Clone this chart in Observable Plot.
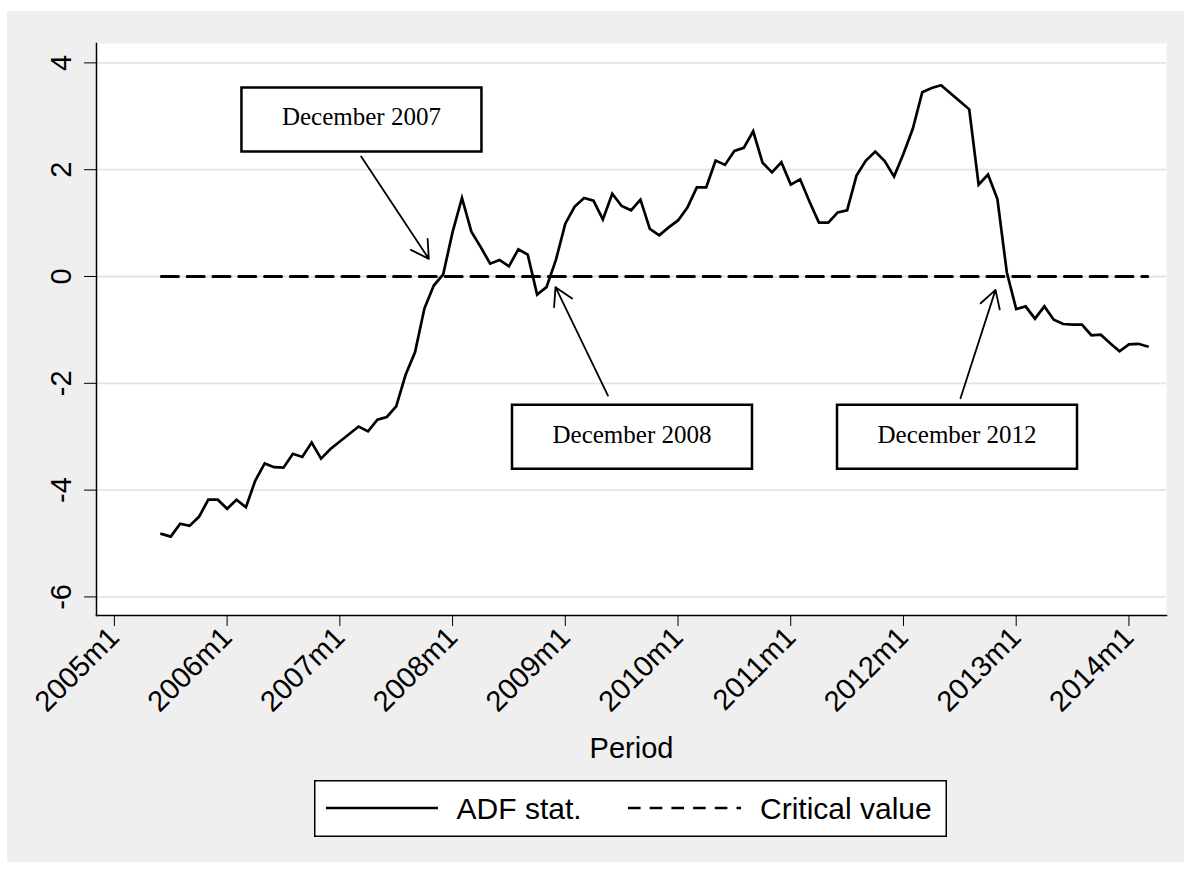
<!DOCTYPE html>
<html>
<head>
<meta charset="utf-8">
<script src="https://cdn.jsdelivr.net/npm/d3@7"></script>
<script src="https://cdn.jsdelivr.net/npm/@observablehq/plot@0.6"></script>
<style>
  html, body { margin: 0; padding: 0; background: #ffffff; width: 1184px; height: 871px; overflow: hidden; }
  #bg { position: absolute; left: 7px; top: 11px; width: 1177px; height: 851px; background: #efefef; }
  #chart { position: absolute; left: 0; top: 0; }
  #legend { position: absolute; left: 314px; top: 780px; overflow: visible; }
</style>
</head>
<body>
<div id="bg"></div>
<div id="chart"></div>
<svg id="legend" width="633" height="57"></svg>
<script>
// ---------- data ----------
const startPeriod = "2005m6";
const adfStat = [
  -4.82, -4.87, -4.63, -4.67, -4.50, -4.18, -4.18, -4.35, -4.18, -4.32,
  -3.82, -3.50, -3.57, -3.58, -3.32, -3.38, -3.11, -3.41, -3.23, -3.09,
  -2.95, -2.81, -2.90, -2.68, -2.63, -2.43, -1.84, -1.42, -0.60, -0.17,
   0.04,  0.83,  1.47,  0.84,  0.55,  0.24,  0.31,  0.19,  0.51,  0.41,
  -0.34, -0.20,  0.31,  0.99,  1.31,  1.47,  1.42,  1.07,  1.55,  1.32,
   1.24,  1.44,  0.89,  0.77,  0.92,  1.05,  1.29,  1.67,  1.67,  2.17,
   2.09,  2.35,  2.41,  2.72,  2.13,  1.95,  2.14,  1.72,  1.82,  1.40,
   1.01,  1.01,  1.20,  1.24,  1.89,  2.17,  2.34,  2.16,  1.87,  2.30,
   2.77,  3.45,  3.53,  3.58,  3.43,  3.28,  3.13,  1.72,  1.91,  1.45,
   0.08, -0.61, -0.56, -0.79, -0.56, -0.81, -0.89, -0.90, -0.90, -1.10,
  -1.09, -1.25, -1.40, -1.27, -1.26, -1.31
];
const criticalValue = 0;
const xTickLabels = ["2005m1","2006m1","2007m1","2008m1","2009m1","2010m1","2011m1","2012m1","2013m1","2014m1"];
const yTicks = [-6, -4, -2, 0, 2, 4];
const annotationLabels = ["December 2007", "December 2008", "December 2012"];
const boxX  = [26.3, 55.1, 89.7];     // months since 2005m1
const boxY  = [2.94, -3.0, -3.0];
const tailX = [26.27, 52.54, 90.07];
const tailY = [2.247, -2.23, -2.28];
const tipX  = [33.47, 46.96, 93.8];
const tipY  = [0.331, -0.20, -0.25];
const legendLabels = ["ADF stat.", "Critical value"];

// ---------- helpers ----------
const periodIndex = p => { const [y, m] = p.split("m").map(Number); return (y - 2005) * 12 + (m - 1); };
const t0 = periodIndex(startPeriod);
const adfRows = adfStat.map((v, i) => ({t: t0 + i, v}));
const critRows = [{t: t0, v: criticalValue}, {t: t0 + adfStat.length - 1, v: criticalValue}];
const tickPos = xTickLabels.map(periodIndex);
const tickMap = new Map(xTickLabels.map(l => [periodIndex(l), l]));
const annotations = annotationLabels.map((label, i) => ({
  label, bx: boxX[i], by: boxY[i], x1: tailX[i], y1: tailY[i], x2: tipX[i], y2: tipY[i]
}));
const boxSymbol = { draw(ctx) { ctx.rect(-120, -32, 240, 64); } };

const SANS = "'Liberation Sans', Arial, Helvetica, sans-serif";
const SERIF = "'Liberation Serif', 'Times New Roman', serif";

const chart = Plot.plot({
  width: 1184,
  height: 780,
  marginLeft: 96,
  marginRight: 18,
  marginTop: 43,
  marginBottom: 165,
  style: {background: "transparent", fontFamily: SANS, fontSize: "29px", color: "black", overflow: "visible"},
  x: {type: "linear", domain: [-1.905, 112]},
  y: {type: "linear", domain: [-6.348, 4.363]},
  marks: [
    Plot.frame({fill: "white", stroke: "none"}),
    Plot.gridY(yTicks, {stroke: "#e4e4e4", strokeOpacity: 1, strokeWidth: 1.8}),
    Plot.frame({anchor: "left", stroke: "black", strokeWidth: 1.5}),
    Plot.frame({anchor: "bottom", stroke: "black", strokeWidth: 1.5}),
    Plot.axisY(yTicks, {tickSize: 12, tickPadding: 14, tickRotate: -90, label: null, fontSize: 29,
      tickFormat: d => String(d)}),
    Plot.axisX(tickPos, {
      tickSize: 11, tickPadding: 6, tickRotate: -45, fontSize: 29,
      tickFormat: d => tickMap.get(d),
      label: "Period", labelAnchor: "center", labelOffset: 142, labelArrow: "none"
    }),
    Plot.line(adfRows, {x: "t", y: "v", stroke: "black", strokeWidth: 2.7, strokeLinejoin: "miter", strokeMiterlimit: 4}),
    Plot.line(critRows, {x: "t", y: "v", stroke: "black", strokeWidth: 3, strokeDasharray: "17 8.8"}),
    Plot.arrow(annotations, {x1: "x1", y1: "y1", x2: "x2", y2: "y2", stroke: "black", strokeWidth: 1.8, headLength: 16.7, headAngle: 60}),
    Plot.dot(annotations, {x: "bx", y: "by", symbol: boxSymbol, r: 10, fill: "white", stroke: "black", strokeWidth: 2.5}),
    Plot.text(annotations, {x: "bx", y: "by", text: "label", fontFamily: SERIF, fontSize: 25, fill: "black", dy: -2})
  ]
});
document.getElementById("chart").appendChild(chart);

// ---------- legend ----------
const lg = d3.select("#legend");
lg.append("rect").attr("x", 0.75).attr("y", 0.75).attr("width", 631.5).attr("height", 55.5)
  .attr("fill", "white").attr("stroke", "black").attr("stroke-width", 1.5);
const legendItems = [
  {label: legendLabels[0], x1: 12, x2: 124, tx: 142.6, dash: null},
  {label: legendLabels[1], x1: 314, x2: 427, tx: 446, dash: "12.6 9.1"}
];
for (const it of legendItems) {
  lg.append("line").attr("x1", it.x1).attr("x2", it.x2).attr("y1", 28).attr("y2", 28)
    .attr("stroke", "black").attr("stroke-width", 2.7).attr("stroke-dasharray", it.dash);
  lg.append("text").attr("x", it.tx).attr("y", 39.3).attr("font-family", SANS).attr("font-size", 30)
    .attr("fill", "black").text(it.label);
}
</script>
</body>
</html>
